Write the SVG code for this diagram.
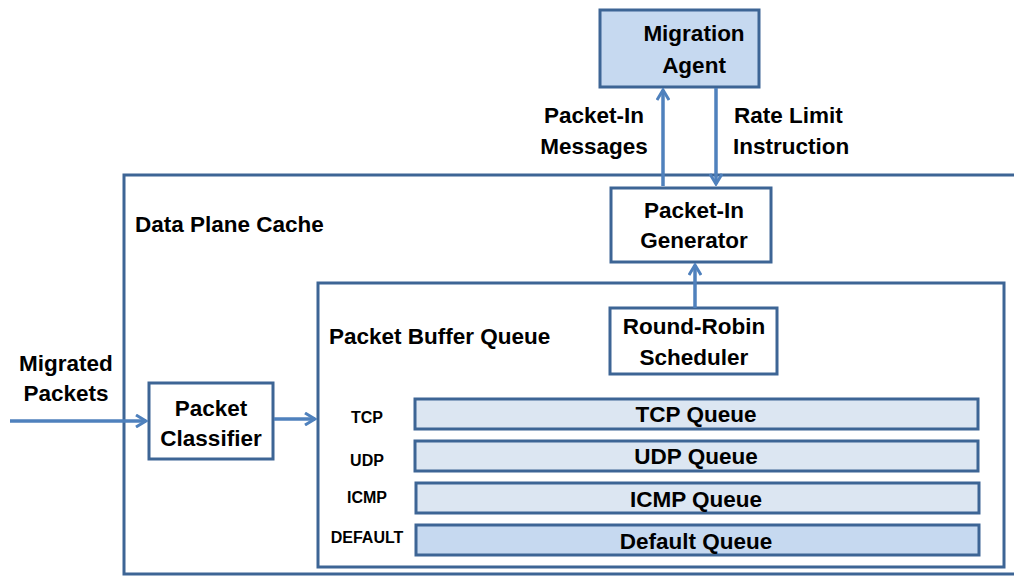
<svg xmlns="http://www.w3.org/2000/svg" width="1014" height="577" viewBox="0 0 1014 577">
<defs>
<style>
.box{fill:#fff;stroke:#3d6595;stroke-width:3}
.agent{fill:#c6d9f0;stroke:#3d6595;stroke-width:3}
.q{fill:#dce6f2;stroke:#3d6595;stroke-width:3}
.qd{fill:#c6d9f0;stroke:#3d6595;stroke-width:3}
.t{font-family:"Liberation Sans",Arial,sans-serif;font-weight:bold;font-size:22.5px;fill:#000}
.c{text-anchor:middle}
.s{font-size:16px}
.e{fill:none;stroke:#4f81bd;stroke-width:3.5}
</style>
<marker id="ah" viewBox="0 0 14 14" refX="12" refY="7" markerWidth="14" markerHeight="14" markerUnits="userSpaceOnUse" orient="auto">
<path d="M2,1 L12,7 L2,13" fill="none" stroke="#4f81bd" stroke-width="3"/>
</marker>
</defs>
<g id="data-plane-cache">
<path d="M1014,175 H124 V574 H1014" class="box" fill="none"/>
<text class="t" x="135" y="232">Data Plane Cache</text>
</g>
<g id="packet-buffer-queue">
<rect class="box" x="318" y="283" width="686" height="284"/>
<text class="t" x="329" y="344">Packet Buffer Queue</text>
</g>
<g id="migration-agent">
<rect class="agent" x="600" y="10" width="159" height="77"/>
<text class="t c" x="694" y="41">Migration</text>
<text class="t c" x="694" y="73">Agent</text>
</g>
<g id="packet-in-generator">
<rect class="box" x="611" y="188" width="160" height="74"/>
<text class="t c" x="694" y="218">Packet-In</text>
<text class="t c" x="694" y="248">Generator</text>
</g>
<g id="round-robin-scheduler">
<rect class="box" x="610" y="308" width="167" height="66"/>
<text class="t c" x="694" y="334">Round-Robin</text>
<text class="t c" x="694" y="365">Scheduler</text>
</g>
<g id="packet-classifier">
<rect class="box" x="149" y="383" width="124" height="76"/>
<text class="t c" x="211" y="416">Packet</text>
<text class="t c" x="211" y="446">Classifier</text>
</g>
<g id="tcp-queue">
<rect class="q" x="415" y="399" width="563" height="30"/>
<text class="t c" x="696" y="422">TCP Queue</text>
<text class="t c s" x="367" y="423">TCP</text>
</g>
<g id="udp-queue">
<rect class="q" x="415" y="441" width="563" height="30"/>
<text class="t c" x="696" y="464">UDP Queue</text>
<text class="t c s" x="367" y="466">UDP</text>
</g>
<g id="icmp-queue">
<rect class="q" x="416" y="483" width="563" height="30"/>
<text class="t c" x="696" y="507">ICMP Queue</text>
<text class="t c s" x="367" y="503">ICMP</text>
</g>
<g id="default-queue">
<rect class="qd" x="416" y="525" width="563" height="30"/>
<text class="t c" x="696" y="549">Default Queue</text>
<text class="t c s" x="367" y="543">DEFAULT</text>
</g>
<g id="connectors">
<line class="e" x1="663" y1="186" x2="663" y2="90" marker-end="url(#ah)"/>
<line class="e" x1="716" y1="88" x2="716" y2="184" marker-end="url(#ah)"/>
<line class="e" x1="695" y1="308" x2="695" y2="265" marker-end="url(#ah)"/>
<line class="e" x1="10" y1="421" x2="146" y2="421" marker-end="url(#ah)"/>
<line class="e" x1="274" y1="419" x2="315" y2="419" marker-end="url(#ah)"/>
<text class="t c" x="594" y="123">Packet-In</text>
<text class="t c" x="594" y="154">Messages</text>
<text class="t" x="734" y="123">Rate Limit</text>
<text class="t" x="733" y="154">Instruction</text>
<text class="t c" x="66" y="371">Migrated</text>
<text class="t c" x="66" y="401">Packets</text>
</g>
</svg>
